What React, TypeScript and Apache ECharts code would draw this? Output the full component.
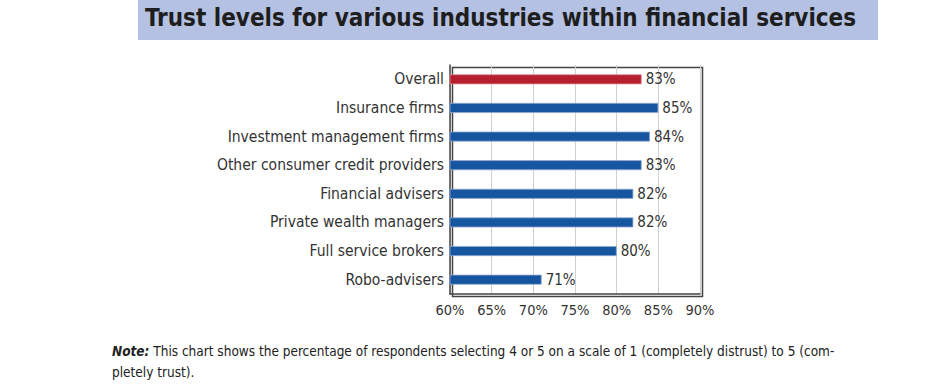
import React, { useEffect, useRef } from "react";
import * as echarts from "echarts";

const categories = [
  "Overall",
  "Insurance firms",
  "Investment management firms",
  "Other consumer credit providers",
  "Financial advisers",
  "Private wealth managers",
  "Full service brokers",
  "Robo-advisers",
];
const values = [83, 85, 84, 83, 82, 82, 80, 71];
const highlight = "Overall";
const titleText = "Trust levels for various industries within financial services";
const noteLine1 = " This chart shows the percentage of respondents selecting 4 or 5 on a scale of 1 (completely distrust) to 5 (com-";
const noteLine2 = "pletely trust).";

export default function App() {
  const ref = useRef<HTMLDivElement>(null);
  useEffect(() => {
    document.body.style.margin = "0";
    if (!ref.current) return;
    const chart = echarts.init(ref.current, null, { renderer: "svg" });
    const font = "'DejaVu Sans Condensed', 'DejaVu Sans', sans-serif";
    chart.setOption({
      animation: false,
      backgroundColor: "#ffffff",
      grid: { left: 450, right: 239, top: 65, height: 229, containLabel: false },
      xAxis: {
        type: "value",
        min: 60,
        max: 90,
        interval: 5,
        axisLabel: {
          formatter: "{value}%",
          color: "#333",
          fontFamily: font,
          fontSize: 14.5,
          margin: 8,
        },
        axisLine: { show: true, lineStyle: { color: "#444", width: 1.5 } },
        axisTick: { show: false },
        splitLine: { show: true, lineStyle: { color: "#d0d0d0", width: 1 } },
      },
      yAxis: {
        type: "category",
        data: categories,
        inverse: true,
        axisLabel: { color: "#333", fontFamily: font, fontSize: 15.5, margin: 6 },
        axisLine: { show: true, lineStyle: { color: "#444", width: 1.5 } },
        axisTick: { show: false },
      },
      series: [
        {
          type: "bar",
          barWidth: 10,
          data: values.map((v, i) => ({
            value: v,
            itemStyle: {
              color: categories[i] === highlight ? "#b51f2e" : "#1656a0",
              borderColor: categories[i] === highlight ? "#e08a92" : "#8fa8d0",
              borderWidth: 0.8,
            },
          })),
          label: {
            show: true,
            position: "right",
            formatter: "{c}%",
            color: "#333",
            fontFamily: font,
            fontSize: 15,
            distance: 4,
          },
        },
      ],
      graphic: [
        {
          type: "rect",
          left: 450,
          top: 65,
          shape: { width: 250, height: 229 },
          style: { fill: "none", stroke: "#444", lineWidth: 1.5 },
          silent: true,
        },
        {
          type: "rect",
          left: 138,
          top: 0,
          shape: { width: 740, height: 40 },
          style: { fill: "#b4c1e2" },
          z: -1,
        },
        {
          type: "text",
          left: 145,
          top: 6,
          style: {
            text: titleText,
            fill: "#1e1e1e",
            font: `bold 24px ${font}`,
          },
        },
        {
          type: "text",
          left: 112,
          top: 344,
          style: {
            rich: {
              b: { font: `bold italic 13.5px ${font}`, fill: "#222" },
              n: { font: `13.5px ${font}`, fill: "#222" },
            },
            text: `{b|Note:}{n|${noteLine1}}`,
          },
        },
        {
          type: "text",
          left: 112,
          top: 365,
          style: { text: noteLine2, font: `13.5px ${font}`, fill: "#222" },
        },
      ],
    });
    return () => chart.dispose();
  }, []);
  return <div ref={ref} style={{ width: 939, height: 390 }} />;
}
